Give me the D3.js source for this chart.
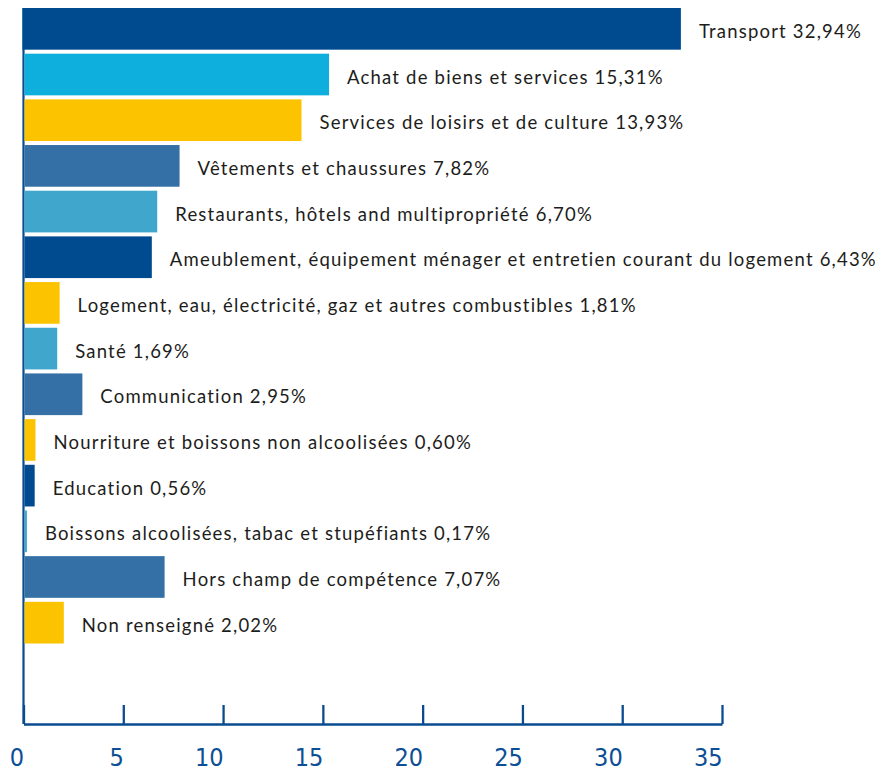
<!DOCTYPE html>
<html><head><meta charset="utf-8">
<script src="https://cdn.jsdelivr.net/npm/d3@7"></script>
<style>
html,body{margin:0;padding:0;background:#fff;}
svg{display:block;}
</style></head>
<body>
<svg id="chart" width="882" height="772"></svg>
<script>
const categories = [
  "Transport",
  "Achat de biens et services",
  "Services de loisirs et de culture",
  "Vêtements et chaussures",
  "Restaurants, hôtels and multipropriété",
  "Ameublement, équipement ménager et entretien courant du logement",
  "Logement, eau, électricité, gaz et autres combustibles",
  "Santé",
  "Communication",
  "Nourriture et boissons non alcoolisées",
  "Education",
  "Boissons alcoolisées, tabac et stupéfiants",
  "Hors champ de compétence",
  "Non renseigné"
];
const values = [32.94, 15.31, 13.93, 7.82, 6.70, 6.43, 1.81, 1.69, 2.95, 0.60, 0.56, 0.17, 7.07, 2.02];
const colorKeys = ["navy","sky","yellow","steel","teal","navy","yellow","teal","steel","yellow","navy","teal","steel","yellow"];
const tickValues = [0, 5, 10, 15, 20, 25, 30, 35];

const palette = {navy:"#004b8f", sky:"#0eaedd", yellow:"#fbc300", steel:"#3470a5", teal:"#40a6cb"};
const fmt = v => v.toFixed(2).replace(".", ",") + "%";

const svg = d3.select("#chart");
const x = d3.scaleLinear().domain([0, 35]).range([23.5, 722]);
const y = d3.scaleBand().domain(categories).range([8, 643.5]).paddingInner(0.0875).paddingOuter(0);
const axisY = 724;
const axisColor = "#0a4b90";

// left axis line
svg.append("line").attr("x1", x(0)).attr("x2", x(0)).attr("y1", 8).attr("y2", axisY)
  .attr("stroke", axisColor).attr("stroke-width", 2.2);

const data = categories.map((c, i) => ({c, v: values[i], k: colorKeys[i]}));

svg.append("g").selectAll("rect").data(data).join("rect")
  .attr("x", (d, i) => i === 0 ? x(0) - 1 : x(0) + 1)
  .attr("y", d => y(d.c))
  .attr("width", (d, i) => x(d.v) - x(0) + (i === 0 ? 1 : -1))
  .attr("height", y.bandwidth())
  .attr("fill", d => palette[d.k]);

svg.append("g").selectAll("text").data(data).join("text")
  .attr("x", d => x(d.v) + 18)
  .attr("y", d => y(d.c) + y.bandwidth() / 2 + 9)
  .attr("font-family", "Lato, 'Noto Sans', sans-serif")
  .attr("font-size", 18.5)
  .attr("letter-spacing", 1.2)
  .attr("fill", "#1d1d1b")
  .text(d => d.c + " " + fmt(d.v));

// bottom axis
const axis = d3.axisBottom(x).tickValues(tickValues).tickSizeInner(-19).tickSizeOuter(0).tickPadding(24);
const g = svg.append("g").attr("transform", `translate(0,${axisY})`).call(axis);
g.select(".domain").attr("stroke", axisColor).attr("stroke-width", 2.3);
g.selectAll(".tick line").attr("stroke", axisColor).attr("stroke-width", 2.3);
g.selectAll(".tick text")
  .attr("text-anchor", "end")
  .attr("x", 0)
  .attr("y", 42)
  .attr("dy", 0)
  .attr("fill", "#0d4f95")
  .attr("font-family", "'Liberation Sans Narrow', 'DejaVu Sans Condensed', sans-serif")
  .attr("font-size", 25);
</script>
</body></html>
